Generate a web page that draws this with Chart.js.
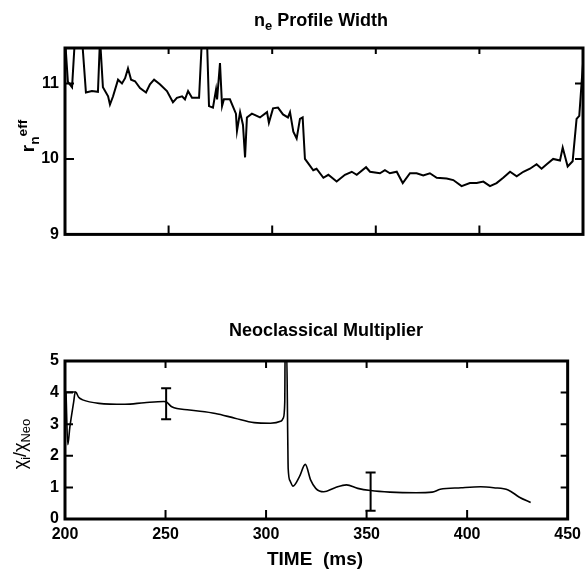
<!DOCTYPE html>
<html>
<head>
<meta charset="utf-8">
<script src="https://cdn.jsdelivr.net/npm/chart.js@4"></script>
<style>
  body { margin: 0; background: #fff; }
  #wrap { position: relative; width: 587px; height: 570px; font-family: "Liberation Sans", Arial, sans-serif; color: #000; }
  canvas { position: absolute; left: 0; }
  .title { position: absolute; font-size: 18px; font-weight: bold; white-space: nowrap; transform: translate(-50%, -50%); }
  .ylab { position: absolute; font-size: 19px; font-weight: bold; white-space: nowrap; transform: translate(-50%, -50%) rotate(-90deg); }
  sub, sup { font-size: 72%; line-height: 0; }
</style>
</head>
<body>
<div id="wrap">
  <canvas id="top-chart" width="587" height="250" style="top:0"></canvas>
  <canvas id="bottom-chart" width="587" height="280" style="top:290px"></canvas>
  <div class="title" style="left:321px; top:20px">n<sub>e</sub> Profile Width</div>
  <div class="title" style="left:326px; top:330px">Neoclassical Multiplier</div>
  <div class="title" style="left:315px; top:559px; font-size:19px">TIME&nbsp;&nbsp;(ms)</div>
  <div class="ylab" style="left:28px; top:136px">r<sub>n</sub><sup>eff</sup></div>
  <div class="ylab" style="left:20px; top:444px; font-weight:normal; font-size:18px">χ<sub>i</sub>/χ<sub>Neo</sub></div>
</div>
<script>
// top panel: effective density profile width
const topTime = [200.0, 201.4, 203.4, 204.8, 208.2, 210.1, 213.0, 215.9, 216.9, 218.3,
  220.8, 221.7, 223.2, 225.6, 227.5, 229.0, 230.4, 231.9, 233.8, 236.2,
  239.1, 241.0, 243.0, 245.8, 249.2, 252.1, 254.0, 256.5, 257.9, 259.4,
  261.3, 264.7, 266.1, 268.5, 269.5, 271.4, 272.9, 273.4, 274.8, 275.8,
  276.7, 279.6, 282.5, 283.0, 284.5, 285.9, 286.9, 287.8, 290.2, 294.1,
  297.5, 298.4, 300.4, 302.8, 305.2, 307.6, 308.6, 310.2, 311.8, 313.4,
  314.7, 315.8, 317.4, 319.8, 321.4, 324.7, 327.1, 331.1, 335.1, 338.4,
  340.8, 345.3, 347.2, 352.0, 354.4, 356.8, 360.1, 363.0, 366.5, 369.7,
  372.9, 376.1, 379.4, 384.2, 387.4, 391.4, 395.4, 398.7, 401.9, 405.1,
  408.3, 411.5, 414.8, 418.0, 421.2, 424.4, 427.6, 430.0, 432.5, 435.6,
  438.9, 440.2, 442.6, 445.0, 446.9, 448.2, 449.3, 450.9];
const topWidth = [11.6, 11.02, 10.95, 11.6, 11.6, 10.88, 10.9, 10.89, 11.6, 10.95,
  10.83, 10.72, 10.83, 11.05, 11.0, 11.07, 11.2, 11.05, 11.03, 10.94,
  10.88, 10.99, 11.05, 10.99, 10.9, 10.75, 10.81, 10.83, 10.79, 10.9,
  10.81, 10.81, 11.6, 11.6, 10.7, 10.68, 10.92, 10.79, 11.27, 10.7,
  10.79, 10.79, 10.6, 10.37, 10.62, 10.45, 10.02, 10.55, 10.6, 10.55,
  10.62, 10.48, 10.67, 10.68, 10.59, 10.55, 10.62, 10.36, 10.27, 10.53,
  10.55, 10.0, 9.94, 9.85, 9.87, 9.75, 9.79, 9.7, 9.79, 9.83,
  9.79, 9.89, 9.83, 9.81, 9.85, 9.81, 9.83, 9.68, 9.81, 9.81,
  9.78, 9.81, 9.75, 9.74, 9.72, 9.64, 9.68, 9.68, 9.70, 9.64,
  9.68, 9.75, 9.83, 9.77, 9.83, 9.87, 9.93, 9.87, 9.93, 10.0,
  9.98, 10.15, 9.9, 9.97, 10.53, 10.57, 11.0, 11.6];

// bottom panel: chi_i / chi_neo
const botTime = [200.5, 201.4, 202.4, 204.3, 205.1, 205.6, 206.8, 208.8, 216.9, 229.8,
  239.4, 249.1, 250.3, 253.1, 261.9, 274.8, 284.5, 294.1, 302.2, 307.6,
  308.6, 309.3, 309.5, 310.2, 310.8, 311.0, 312.0, 313.4, 316.6, 319.5,
  322.2, 324.7, 328.7, 334.3, 340.0, 345.6, 352.0, 361.6, 374.6, 382.6,
  386.6, 397.0, 406.7, 413.2, 420.4, 426.0, 431.6];
const botMult = [4.02, 2.35, 2.9, 3.7, 4.02, 4.0, 3.85, 3.77, 3.66, 3.63,
  3.68, 3.72, 3.71, 3.55, 3.45, 3.34, 3.19, 3.05, 3.03, 3.1,
  3.2, 3.7, 5.5, 5.5, 2.5, 1.6, 1.2, 1.04, 1.34, 1.73,
  1.23, 0.97, 0.86, 0.99, 1.08, 0.97, 0.90, 0.85, 0.83, 0.85,
  0.94, 0.99, 1.02, 0.99, 0.92, 0.69, 0.52];
// short flat segment at the start
const holdTime = [200.5, 205.3];
const holdMult = [4.02, 4.02];

// error bars
const errTime = [250.3, 352.0];
const errLow = [3.16, 0.26];
const errHigh = [4.14, 1.47];

const xTicks = [200, 250, 300, 350, 400, 450];

const tickFont = { family: '"Liberation Sans", Arial, sans-serif', size: 16, weight: 'bold' };

function pts(xs, ys) {
    return xs.map((x, i) => ({ x: x, y: ys[i] }));
}

// frame + inward tick marks
const framePlugin = {
    id: 'frame',
    afterDraw(chart, args, opts) {
        const ctx = chart.ctx;
        const a = chart.chartArea;
        const xs = chart.scales.x, ys = chart.scales.y;
        ctx.save();
        ctx.strokeStyle = '#000';
        ctx.lineWidth = 2;
        xs.ticks.forEach(t => {
            if (t.value <= xs.min || t.value >= xs.max) return;
            const px = xs.getPixelForValue(t.value);
            ctx.beginPath();
            ctx.moveTo(px, a.top); ctx.lineTo(px, a.top + opts.top);
            ctx.moveTo(px, a.bottom); ctx.lineTo(px, a.bottom - opts.bottom);
            ctx.stroke();
        });
        ys.ticks.forEach(t => {
            if (t.value <= ys.min || t.value >= ys.max) return;
            const py = ys.getPixelForValue(t.value);
            ctx.beginPath();
            ctx.moveTo(a.left, py); ctx.lineTo(a.left + opts.left, py);
            ctx.moveTo(a.right, py); ctx.lineTo(a.right - opts.right, py);
            ctx.stroke();
        });
        ctx.lineWidth = 3;
        ctx.strokeRect(a.left, a.top, a.right - a.left, a.bottom - a.top);
        ctx.restore();
    }
};

function xScale(showLabels, height) {
    return {
        type: 'linear', min: 200, max: 450,
        afterBuildTicks: s => { s.ticks = xTicks.map(v => ({ value: v })); },
        ticks: { display: showLabels, font: tickFont, color: '#000', padding: 6, maxRotation: 0 },
        grid: { display: false, drawTicks: false },
        border: { display: false },
        afterFit: s => { s.height = height; }
    };
}

function yScale(min, max) {
    return {
        min: min, max: max,
        ticks: { stepSize: 1, includeBounds: false, font: tickFont, color: '#000', padding: 6 },
        grid: { display: false, drawTicks: false },
        border: { display: false },
        afterFit: s => { s.width = 65; }
    };
}

document.addEventListener('DOMContentLoaded', () => {
    new Chart(document.getElementById('top-chart'), {
        type: 'line',
        data: {
            datasets: [{
                data: pts(topTime, topWidth),
                borderColor: '#000',
                borderWidth: 2,
                pointRadius: 0,
                tension: 0
            }]
        },
        options: {
            responsive: false,
            animation: false,
            layout: { padding: { top: 48, right: 4, left: 0, bottom: 0 } },
            plugins: {
                legend: { display: false },
                tooltip: { enabled: false },
                frame: { top: 6, bottom: 9, left: 9, right: 8 }
            },
            scales: { x: xScale(false, 13), y: yScale(9, 11.47) }
        },
        plugins: [framePlugin]
    });

    // error bars: vertical segment with a horizontal cap at each end
    const errSets = errTime.map((t, i) => ({
        data: [{ x: t, y: errLow[i] }, { x: t, y: errHigh[i] }],
        borderColor: '#000',
        borderWidth: 2,
        pointStyle: 'line',
        pointRadius: 5,
        pointBorderWidth: 2,
        pointBorderColor: '#000',
        tension: 0
    }));

    new Chart(document.getElementById('bottom-chart'), {
        type: 'line',
        data: {
            datasets: [{
                data: pts(botTime, botMult),
                borderColor: '#000',
                borderWidth: 1.6,
                pointRadius: 0,
                cubicInterpolationMode: 'monotone'
            }, {
                data: pts(holdTime, holdMult),
                borderColor: '#000',
                borderWidth: 1.6,
                pointRadius: 0
            }].concat(errSets)
        },
        options: {
            responsive: false,
            animation: false,
            layout: { padding: { top: 71, right: 4, left: 0, bottom: 0 } },
            plugins: {
                legend: { display: false },
                tooltip: { enabled: false },
                frame: { top: 7, bottom: 9, left: 8, right: 7 }
            },
            scales: { x: xScale(true, 51), y: yScale(0, 5) }
        },
        plugins: [framePlugin]
    });
});
</script>
</body>
</html>
